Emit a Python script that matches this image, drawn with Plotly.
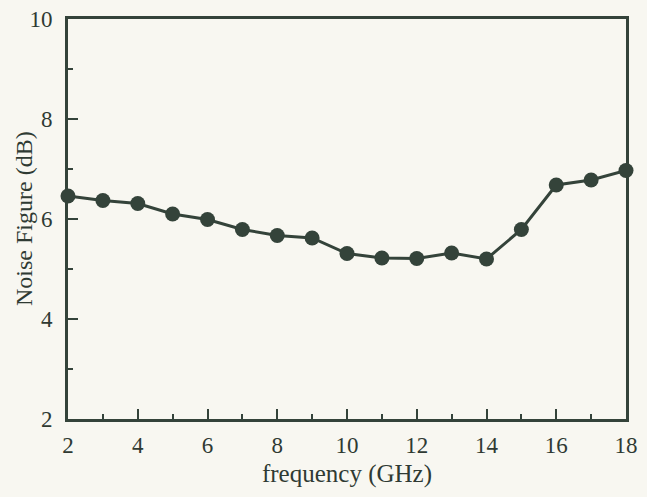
import plotly.graph_objects as go

freq_ghz = [2, 3, 4, 5, 6, 7, 8, 9, 10, 11, 12, 13, 14, 15, 16, 17, 18]
noise_figure_db = [6.46, 6.37, 6.31, 6.10, 5.99, 5.79, 5.67, 5.62, 5.31, 5.22,
                   5.21, 5.32, 5.20, 5.79, 6.68, 6.78, 6.97]
x_tick_vals = [2, 4, 6, 8, 10, 12, 14, 16, 18]
y_tick_vals = [2, 4, 6, 8, 10]

ink = "#34433a"
text_ink = "#2f3a33"
paper = "#f8f7f1"
font_family = "Liberation Serif, Times New Roman, serif"

fig = go.Figure()
fig.add_trace(go.Scatter(
    x=freq_ghz, y=noise_figure_db, mode="lines+markers",
    line=dict(color=ink, width=3),
    marker=dict(color=ink, size=15),
    cliponaxis=False, showlegend=False,
))

axis_common = dict(
    showline=True, linecolor=ink, linewidth=3, mirror=True, automargin=False,
    showgrid=False, zeroline=False, ticks="inside", ticklen=10, tickwidth=2,
    tickcolor=ink, tickfont=dict(family=font_family, size=23, color=text_ink),
)
fig.update_xaxes(
    range=[2, 18], tickvals=x_tick_vals, ticklabelstandoff=3,
    minor=dict(ticks="inside", ticklen=5, tickwidth=2, tickcolor=ink, dtick=1, tick0=2),
    title=dict(text="frequency (GHz)", font=dict(family=font_family, size=25, color=text_ink),
               standoff=8),
    **axis_common,
)
fig.update_yaxes(
    range=[2, 10], tickvals=y_tick_vals, ticklabelstandoff=8,
    minor=dict(ticks="inside", ticklen=5, tickwidth=2, tickcolor=ink, dtick=1, tick0=2),
    **axis_common,
)
fig.add_annotation(
    text="Noise Figure (dB)", textangle=-90, showarrow=False,
    xref="paper", yref="paper", x=0, y=0.5, xanchor="center", yanchor="middle",
    xshift=-44, font=dict(family=font_family, size=24, color=text_ink),
)
fig.update_layout(
    width=647, height=497,
    margin=dict(l=68, r=21, t=19, b=78),
    paper_bgcolor=paper, plot_bgcolor=paper,
)
fig.write_html(
    "out.html",
    config={"displayModeBar": False},
    post_script="document.body.style.margin='0';document.body.style.background='%s';" % paper,
)
